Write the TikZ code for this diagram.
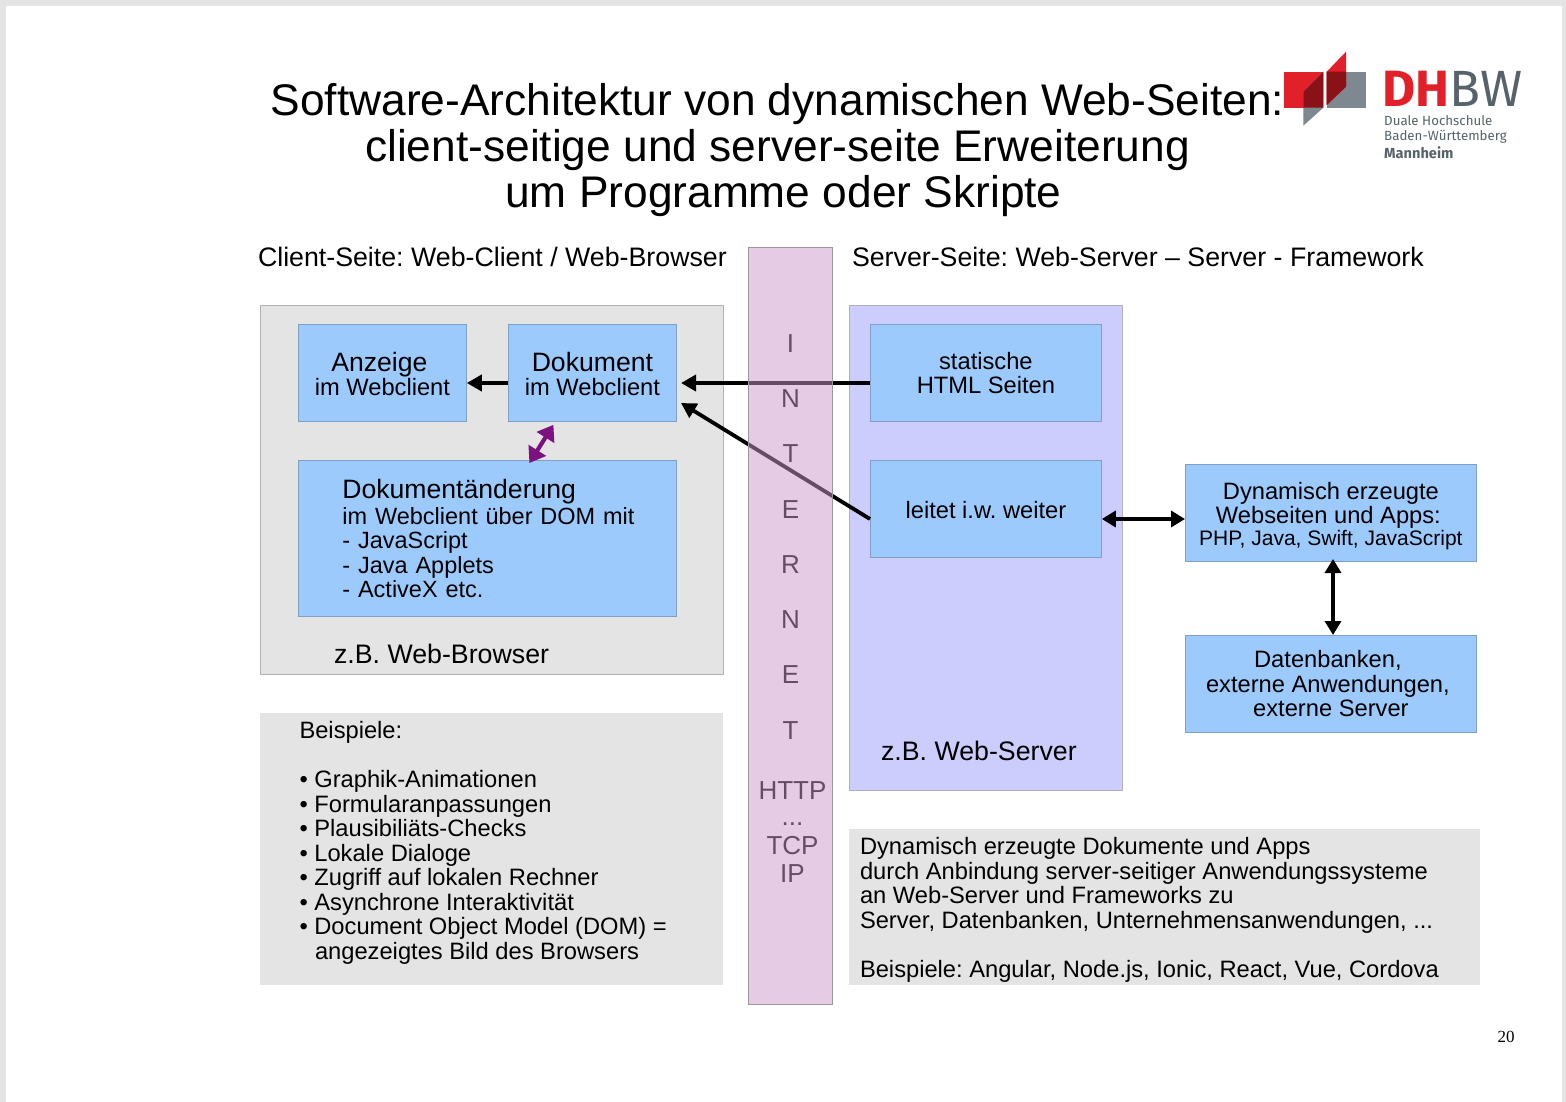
\documentclass[tikz,border=0pt]{standalone}
\usepackage{fontspec}
\setmainfont{Liberation Sans}
\newfontfamily\logofont{Fira Sans}
\newfontfamily\pagefont{Liberation Serif}
\usetikzlibrary{arrows.meta,calc}
\frenchspacing
\newcommand{\fsz}[2]{\fontsize{#1}{#2}\selectfont}
\newcommand{\downby}[1]{\rule{0pt}{#1pt}}
\definecolor{pagegray}{HTML}{E4E4E4}
\definecolor{boxblue}{HTML}{9CCAFD}
\definecolor{boxline}{HTML}{7F9FC4}
\definecolor{servfill}{HTML}{CCCCFD}
\definecolor{bandfill}{HTML}{CC99CA}
\definecolor{arrowpurple}{HTML}{7B1280}
\definecolor{logored}{HTML}{E1202A}
\definecolor{logogray}{HTML}{7E8890}
\definecolor{logodark}{HTML}{8A1116}
\definecolor{logotext}{HTML}{56636B}
\tikzset{
  x=1pt,y=-1pt,
  bluebox/.style={draw=boxline,line width=0.8pt,fill=boxblue,inner sep=0pt,align=center,font=\fsz{23.7}{24.5}},
  panel/.style={draw=black!30,line width=0.9pt,inner sep=0pt},
  plain/.style={inner sep=0pt,outer sep=0pt,align=left,font=\fsz{23.7}{24.5}},
  headtext/.style={plain,font=\fsz{26.75}{26}},
  bandtext/.style={inner sep=0pt,font=\fsz{26}{26},text=black},
  conn/.style={line width=3.8pt,-{Triangle[length=15pt,width=16pt]}},
  dconn/.style={line width=3.6pt,{Triangle[length=14pt,width=16pt]}-{Triangle[length=14pt,width=16pt]}},
}
\begin{document}
\begin{tikzpicture}
\useasboundingbox (0,0) rectangle (1566,1102);
\fill[pagegray] (0,0) rectangle (1566,1102);
\fill[white] (6,6) rectangle (1562,1102);

% logo
\fill[logored] (1284,71.7) rectangle (1323.3,107.7);
\fill[logogray] (1326.7,71.7) rectangle (1365.7,107.7);
\fill[logogray] (1303.3,91.7) -- (1323.3,71.7) -- (1323.3,107.7) -- (1303.3,125.7) -- cycle;
\fill[logodark] (1303.3,91.7) -- (1323.3,71.7) -- (1323.3,107.7) -- (1303.3,107.7) -- cycle;
\fill[logored] (1326.7,71.7) -- (1346,51.7) -- (1346,86.7) -- (1326.7,105) -- cycle;
\fill[logodark] (1326.7,71.7) -- (1346,71.7) -- (1346,86.7) -- (1326.7,105) -- cycle;
\node[inner sep=0pt,anchor=base west,font=\logofont\fsz{51}{51}] (logoname) at (1382,107) {{\bfseries\color{logored}DH}{\color{logotext}BW}};
\node[inner sep=0pt,anchor=base west,align=left,text=logotext,font=\logofont\fsz{13.3}{15}] (logosub) at (1384,141) {Duale Hochschule\\Baden-Württemberg};
\node[inner sep=0pt,anchor=base west,text=logotext,font=\logofont\fsz{14.6}{15}\bfseries] (logocity) at (1384,159) {Mannheim};

% title
\node[inner sep=0pt,align=center,font=\fsz{44.3}{46},anchor=base] (title) at (777.5,207.2) {Software-Architektur von dynamischen Web-Seiten:\\client-seitige und server-seite Erweiterung\\\hspace*{12pt}um Programme oder Skripte};

\node[headtext,anchor=base west] (chead) at (258,266.5) {Client-Seite: Web-Client / Web-Browser};
\node[headtext,anchor=base west] (shead) at (852,266.5) {Server-Seite: Web-Server – Server - Framework};

% panels
\node[panel,fill=pagegray,minimum width=463pt,minimum height=369pt,anchor=north west] (client) at (260,305) {};
\node[panel,draw=black!30,fill=servfill,minimum width=273pt,minimum height=485pt,anchor=north west] (server) at (849,305) {};

% boxes
\node[bluebox,minimum width=168pt,minimum height=97pt,anchor=north west] (anz) at (298,324) {\downby{21}\hspace*{-6pt}{\fsz{26.6}{25}Anzeige}\\im Webclient};
\node[bluebox,minimum width=168pt,minimum height=97pt,anchor=north west] (doc) at (508,324) {\downby{21}{\fsz{26.6}{25}Dokument}\\im Webclient};
\node[bluebox,minimum width=378pt,minimum height=156pt,anchor=north west,align=left,text width=378pt,font=\fsz{23.5}{24.5}] (chg) at (298,460) {\hspace*{44pt}{\fsz{26.6}{26}Dokumentänderung}\\[1.5pt]\hspace*{44pt}im Webclient über DOM mit\\\hspace*{44pt}- JavaScript\\\hspace*{44pt}- Java Applets\\\hspace*{44pt}- ActiveX etc.};
\node[bluebox,minimum width=231pt,minimum height=97pt,anchor=north west] (stat) at (870,324) {statische\\HTML Seiten};
\node[bluebox,minimum width=231pt,minimum height=97pt,anchor=north west] (leit) at (870,460) {\downby{20}leitet i.w. weiter};
\node[bluebox,minimum width=291pt,minimum height=97pt,anchor=north west] (dyn) at (1185,464) {\downby{23}Dynamisch erzeugte\\\hspace*{-5pt}Webseiten und Apps:\\[-3pt]{\fsz{21}{24.5}PHP, Java, Swift, JavaScript}};
\node[bluebox,minimum width=291pt,minimum height=97pt,anchor=north west] (db) at (1185,635) {\hspace*{-6pt}Datenbanken,\\\hspace*{-6pt}externe Anwendungen,\\externe Server};

\node[headtext,anchor=base west] (browser) at (334,663.5) {z.B. Web-Browser};
\node[headtext,anchor=base west] (webserver) at (881,760.5) {z.B. Web-Server};

% example panels
\node[fill=pagegray,inner sep=0pt,minimum width=463pt,minimum height=272pt,anchor=north west] (bspbox) at (260,713) {};
\node[plain,anchor=north west] (bsp) at (299.5,721.5) {Beispiele:\\[24.5pt]%
• Graphik-Animationen\\• Formularanpassungen\\• Plausibiliäts-Checks\\• Lokale Dialoge\\• Zugriff auf lokalen Rechner\\• Asynchrone Interaktivität\\• Document Object Model (DOM) =\\\hspace*{15.5pt}angezeigtes Bild des Browsers};
\node[fill=pagegray,inner sep=0pt,minimum width=631pt,minimum height=156pt,anchor=north west] (dynbox) at (849,829) {};
\node[plain,anchor=north west] (dyntext) at (860,837.5) {Dynamisch erzeugte Dokumente und Apps\\durch Anbindung server-seitiger Anwendungssysteme\\an Web-Server und Frameworks zu\\Server, Datenbanken, Unternehmensanwendungen, ...\\[24.5pt]Beispiele: Angular, Node.js, Ionic, React, Vue, Cordova};

% connectors
\draw[conn] (doc.west |- 0,383) -- (anz.east |- 0,383);
\coordinate (statout) at (870,383);
\coordinate (docin) at (681,383);
\draw[conn] (statout) -- (docin);
\coordinate (leitout) at (870,519);
\coordinate (docin2) at (681,403);
\draw[conn] (leitout) -- (docin2);
\draw[dconn,draw=black] (leit.east |- 0,519) -- (dyn.west |- 0,519);
\draw[dconn] (1333,559) -- (1333,635);
\draw[line width=4.2pt,draw=arrowpurple,{Triangle[length=15pt,width=20pt]}-{Triangle[length=15pt,width=20pt]}] ([xshift=42pt,yshift=-3pt]chg.north) -- ([xshift=-39pt,yshift=-3pt]doc.south);

% internet band text, then the translucent band over it
\node[bandtext] (i1) at (790.5,344) {I};
\node[bandtext] (i2) at (790.5,399) {N};
\node[bandtext] (i3) at (790.5,454) {T};
\node[bandtext] (i4) at (790.5,510) {E};
\node[bandtext] (i5) at (790.5,565) {R};
\node[bandtext] (i6) at (790.5,620) {N};
\node[bandtext] (i7) at (790.5,675) {E};
\node[bandtext] (i8) at (790.5,731) {T};
\node[bandtext] (i9) at (792.5,791) {HTTP};
\node[bandtext] (i10) at (792.5,824) {...};
\node[bandtext] (i11) at (792.5,846) {TCP};
\node[bandtext] (i12) at (792.5,874) {IP};
\fill[bandfill,opacity=0.5] (748,247) rectangle (832,1004);
\draw[black!40,line width=0.8pt] (748,247) rectangle (832,1004);

\node[inner sep=0pt,font=\pagefont\fsz{17}{17}] (pageno) at (1506,1037) {20};
\end{tikzpicture}
\end{document}
